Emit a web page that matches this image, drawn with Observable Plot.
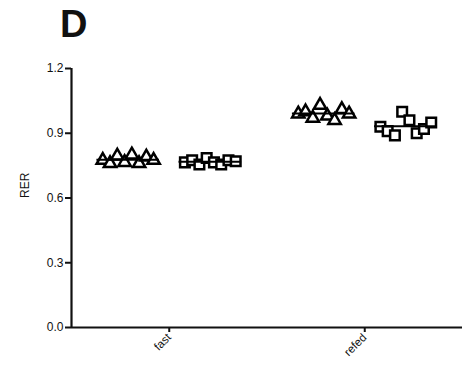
<!DOCTYPE html>
<html>
<head>
<meta charset="utf-8">
<script src="https://cdn.jsdelivr.net/npm/d3@7"></script>
<script src="https://cdn.jsdelivr.net/npm/@observablehq/plot@0.6"></script>
<style>
  body { margin: 0; background: #fff; font-family: "Liberation Sans", Arial, sans-serif; }
  #wrap { position: relative; width: 472px; height: 375px; }
  #panel { position: absolute; left: 60px; top: 3px; font-size: 38px; font-weight: bold; color: #111; }
</style>
</head>
<body>
<div id="wrap"><div id="panel">D</div></div>
<script>
const categories = ["fast", "refed"];
const seriesNames = ["triangle", "square"];
const fastTriangle = [0.775, 0.76, 0.795, 0.765, 0.80, 0.76, 0.79, 0.775];
const fastSquare   = [0.765, 0.775, 0.755, 0.785, 0.765, 0.755, 0.775, 0.77];
const refedTriangle = [0.99, 1.00, 0.97, 1.03, 0.98, 0.96, 1.01, 0.99];
const refedSquare   = [0.93, 0.91, 0.89, 1.00, 0.96, 0.90, 0.92, 0.95];
const yTicks = [0, 0.3, 0.6, 0.9, 1.2];

const groups = [
  {cat: 0, ser: 0, values: fastTriangle},
  {cat: 0, ser: 1, values: fastSquare},
  {cat: 1, ser: 0, values: refedTriangle},
  {cat: 1, ser: 1, values: refedSquare}
];
const shift = 0.21, spread = 0.13, halfMean = 0.16;
const points = [];
const means = [];
groups.forEach(g => {
  const c = g.cat + 0.5 + (g.ser ? shift : -shift);
  const n = g.values.length;
  g.values.forEach((v, i) => points.push({x: c + (i - (n - 1) / 2) * (2 * spread / (n - 1)), y: v, symbol: seriesNames[g.ser]}));
  means.push({x1: c - halfMean, x2: c + halfMean, y: d3.mean(g.values)});
});

const chart = Plot.plot({
  width: 472,
  height: 375,
  marginLeft: 71,
  marginRight: 10,
  marginTop: 68,
  marginBottom: 48,
  style: {fontFamily: "Liberation Sans, Arial, sans-serif", fontSize: "12px", color: "#111", background: "transparent"},
  x: {domain: [0, 2]},
  y: {domain: [0, 1.2]},
  marks: [
    Plot.axisY({ticks: yTicks, tickFormat: d3.format(".1f"), tickSize: 6, strokeWidth: 2, tickPadding: 2, fontSize: 12, label: null}),
    Plot.text(["RER"], {frameAnchor: "left", dx: -46, rotate: -90, fontSize: 12}),
    Plot.axisX({ticks: [0.5, 1.5], tickFormat: i => categories[Math.floor(i)], tickSize: 5, strokeWidth: 2, tickRotate: -45, tickPadding: 3, fontSize: 11.5, label: null}),
    Plot.ruleX([0], {strokeWidth: 2.2}),
    Plot.ruleY([0], {strokeWidth: 2.2}),
    Plot.dot(points.filter(d => d.symbol === "triangle"), {x: "x", y: "y", symbol: "triangle", r: 4.6, stroke: "black", fill: "white", strokeWidth: 2.5}),
    Plot.dot(points.filter(d => d.symbol === "square"), {x: "x", y: "y", symbol: "square", r: 5.4, stroke: "black", fill: "white", strokeWidth: 2.5}),
    Plot.ruleY(means, {x1: "x1", x2: "x2", y: "y", stroke: "black", strokeWidth: 2})
  ]
});
chart.style.position = "absolute";
chart.style.left = "0";
chart.style.top = "0";
document.getElementById("wrap").appendChild(chart);
</script>
</body>
</html>
